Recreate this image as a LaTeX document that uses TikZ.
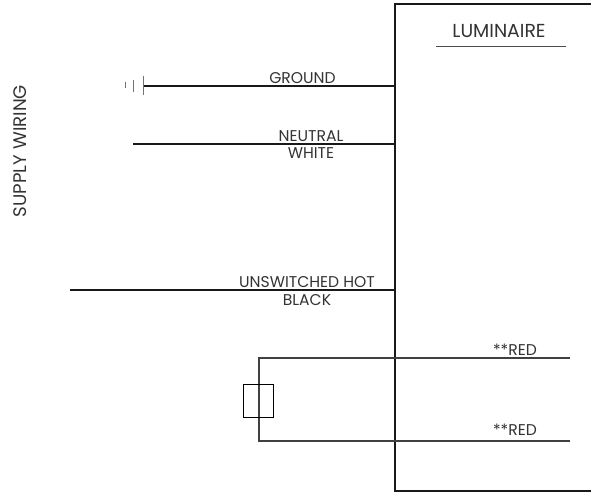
\documentclass[tikz,border=0pt]{standalone}
\usepackage{fontspec}
\setmainfont{Poppins}
\tikzset{
    wire/.style={line width=1.6pt,black!90},
    redwire/.style={line width=1.4pt,black!75},
    gndbar/.style={line width=1pt,black!55},
    wirelabel/.style={font=\fontsize{15.6}{16}\selectfont,text=black!80,align=center,inner sep=0pt},
}
\begin{document}
\begin{tikzpicture}[x=1pt,y=-1pt,line cap=butt]
        \useasboundingbox (0,0) rectangle (591,492);
        % luminaire box
        \coordinate (boxtl) at (395,4);
        \coordinate (boxtr) at (591,4);
        \coordinate (boxbl) at (395,491);
        \coordinate (boxbr) at (591,491);
        \draw[wire] (boxtr) -- (boxtl) -- (boxbl) -- (boxbr);
        \node[wirelabel,font=\fontsize{18.8}{20}\selectfont] (lumlabel) at (499,31) {LUMINAIRE};
        \coordinate (rulea) at (436,46);
        \coordinate (ruleb) at (566,46);
        \draw[line width=0.9pt,black!70] (rulea) -- (ruleb);
        \node[wirelabel,rotate=90,font=\fontsize{18.2}{19}\selectfont] (supply) at (20,151) {SUPPLY WIRING};
        % supply wires
        \coordinate (gndend) at (143,86);
        \coordinate (gndbox) at (395,86);
        \draw[wire] (gndend) -- (gndbox);
        \coordinate (gnda) at (143,76);
        \coordinate (gndb) at (143,95);
        \draw[gndbar] (gnda) -- (gndb);
        \coordinate (gndc) at (133,80);
        \coordinate (gndd) at (133,92);
        \draw[gndbar] (gndc) -- (gndd);
        \coordinate (gnde) at (125,82);
        \coordinate (gndf) at (125,88);
        \draw[gndbar] (gnde) -- (gndf);
        \node[wirelabel] (gndlabel) at (302.5,78) {GROUND};
        \coordinate (neuend) at (133,144);
        \coordinate (neubox) at (395,144);
        \draw[wire] (neuend) -- (neubox);
        \node[wirelabel] (neulabela) at (311,136) {NEUTRAL};
        \node[wirelabel] (neulabelb) at (311,153.5) {WHITE};
        \coordinate (hotend) at (70,290);
        \coordinate (hotbox) at (395,290);
        \draw[wire] (hotend) -- (hotbox);
        \node[wirelabel] (hotlabela) at (307,282) {UNSWITCHED HOT};
        \node[wirelabel] (hotlabelb) at (307,300) {BLACK};
        % red wires and fuse
        \coordinate (reda) at (259,358);
        \coordinate (redaend) at (570,358);
        \coordinate (redb) at (259,441);
        \coordinate (redbend) at (570,441);
        \draw[redwire] (redaend) -- (reda) -- (redb) -- (redbend);
        \node[draw,line width=1.6pt,black,fill=none,minimum width=30pt,minimum height=33pt,inner sep=0pt] (fuse) at (258.5,401) {};
        \node[wirelabel] (redlabela) at (515,350) {**RED};
        \node[wirelabel] (redlabelb) at (515,430) {**RED};
    \end{tikzpicture}
\end{document}
